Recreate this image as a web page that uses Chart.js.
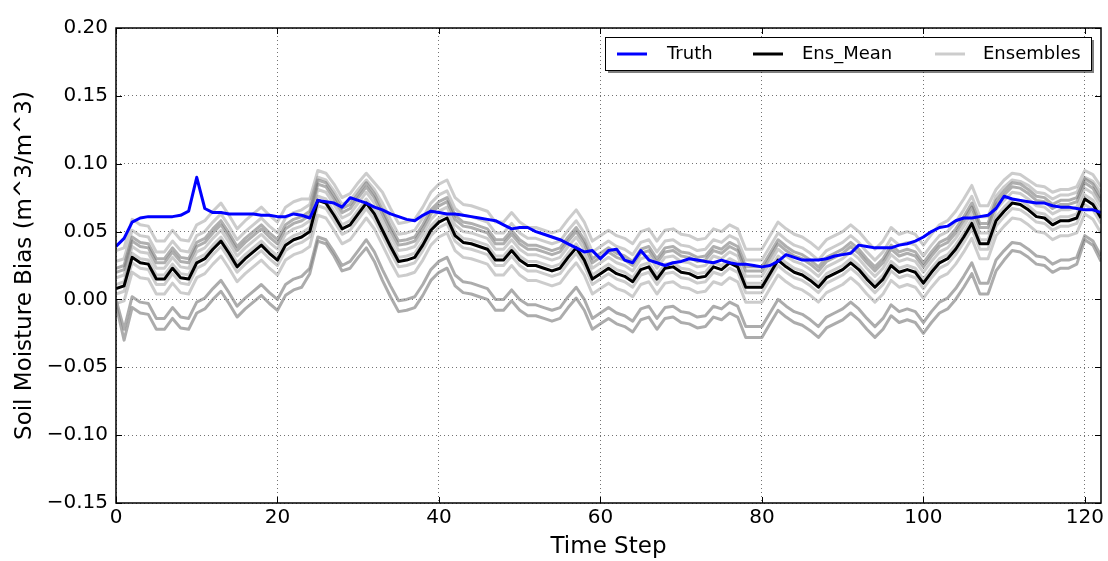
<!DOCTYPE html>
<html>
<head>
<meta charset="utf-8">
<title>Soil Moisture Bias</title>
<script src="https://cdn.jsdelivr.net/npm/chart.js@4.4.1/dist/chart.umd.min.js"></script>
<style>
  body { margin: 0; background: #fff; }
  #wrap { width: 1108px; height: 561px; position: relative; }
</style>
</head>
<body>
<div id="wrap"><canvas id="biasChart"></canvas></div>
<script>
// x positions: time steps 0..122
const timeSteps = Array.from({ length: 123 }, (_, i) => i);

const xTicks = [0, 20, 40, 60, 80, 100, 120];
const yTicks = [-0.15, -0.10, -0.05, 0.00, 0.05, 0.10, 0.15, 0.20];

// Truth (blue)
const truth = [
  0.039,0.045,0.057,0.060,0.061,0.061,0.061,0.061,0.062,0.065,
  0.090,0.067,0.064,0.064,0.063,0.063,0.063,0.063,0.062,0.062,
  0.061,0.061,0.063,0.062,0.060,0.073,0.072,0.071,0.068,0.075,
  0.073,0.071,0.068,0.066,0.063,0.061,0.059,0.058,0.062,0.065,
  0.064,0.063,0.063,0.062,0.061,0.060,0.059,0.058,0.055,0.052,
  0.053,0.053,0.050,0.048,0.046,0.044,0.041,0.038,0.035,0.036,
  0.030,0.036,0.037,0.029,0.027,0.036,0.029,0.027,0.025,0.027,
  0.028,0.030,0.029,0.028,0.027,0.029,0.027,0.026,0.026,0.025,
  0.024,0.025,0.028,0.033,0.031,0.029,0.029,0.029,0.030,0.032,
  0.033,0.034,0.040,0.039,0.038,0.038,0.038,0.040,0.041,0.043,
  0.046,0.050,0.053,0.054,0.058,0.060,0.060,0.061,0.062,0.067,
  0.076,0.074,0.073,0.072,0.071,0.071,0.069,0.068,0.068,0.067,
  0.066,0.066,0.064
];

// Ensemble mean (black)
const ensMean = [
  0.008,0.010,0.031,0.027,0.026,0.015,0.015,0.023,0.016,0.015,
  0.027,0.030,0.037,0.043,0.034,0.024,0.030,0.035,0.040,0.034,
  0.029,0.040,0.044,0.046,0.050,0.073,0.071,0.062,0.052,0.055,
  0.063,0.071,0.063,0.051,0.039,0.028,0.029,0.031,0.040,0.051,
  0.057,0.060,0.047,0.042,0.041,0.039,0.037,0.029,0.029,0.036,
  0.029,0.025,0.025,0.023,0.021,0.023,0.031,0.038,0.029,0.015,
  0.019,0.023,0.019,0.017,0.013,0.022,0.024,0.015,0.023,0.024,
  0.020,0.019,0.016,0.017,0.024,0.022,0.027,0.024,0.009,0.009,
  0.009,0.019,0.029,0.024,0.020,0.018,0.014,0.009,0.016,0.019,
  0.022,0.027,0.022,0.015,0.009,0.015,0.025,0.020,0.022,0.020,
  0.012,0.020,0.027,0.030,0.037,0.046,0.056,0.041,0.041,0.058,
  0.065,0.071,0.070,0.066,0.061,0.060,0.055,0.058,0.058,0.060,
  0.074,0.070,0.060
];

// Ensemble members (grey), top of the band downwards
const ensA = [
  0.036,0.038,0.059,0.055,0.054,0.043,0.043,0.051,0.044,0.043,
  0.055,0.058,0.065,0.071,0.062,0.052,0.058,0.063,0.068,0.062,
  0.057,0.068,0.072,0.074,0.074,0.095,0.093,0.085,0.075,0.078,
  0.086,0.093,0.086,0.079,0.067,0.056,0.057,0.059,0.068,0.079,
  0.085,0.088,0.075,0.070,0.069,0.067,0.065,0.057,0.057,0.064,
  0.057,0.053,0.053,0.051,0.049,0.051,0.059,0.066,0.057,0.043,
  0.047,0.051,0.047,0.045,0.041,0.050,0.052,0.043,0.051,0.052,
  0.048,0.047,0.044,0.045,0.052,0.050,0.055,0.052,0.037,0.037,
  0.037,0.047,0.057,0.052,0.048,0.046,0.042,0.037,0.044,0.047,
  0.050,0.055,0.050,0.043,0.037,0.043,0.053,0.048,0.050,0.048,
  0.040,0.048,0.055,0.058,0.065,0.074,0.084,0.069,0.069,0.081,
  0.088,0.093,0.092,0.088,0.084,0.083,0.079,0.081,0.081,0.083,
  0.095,0.092,0.083
];
const ensB = [
  0.028,0.030,0.051,0.047,0.046,0.035,0.035,0.043,0.036,0.035,
  0.047,0.050,0.057,0.063,0.054,0.044,0.050,0.055,0.060,0.054,
  0.049,0.060,0.064,0.066,0.070,0.090,0.088,0.080,0.070,0.073,
  0.081,0.088,0.081,0.071,0.059,0.048,0.049,0.051,0.060,0.071,
  0.077,0.080,0.067,0.062,0.061,0.059,0.057,0.049,0.049,0.056,
  0.049,0.045,0.045,0.043,0.041,0.043,0.051,0.058,0.049,0.035,
  0.039,0.043,0.039,0.037,0.033,0.042,0.044,0.035,0.043,0.044,
  0.040,0.039,0.036,0.037,0.044,0.042,0.047,0.044,0.029,0.029,
  0.029,0.039,0.049,0.044,0.040,0.038,0.034,0.029,0.036,0.039,
  0.042,0.047,0.042,0.035,0.029,0.035,0.045,0.040,0.042,0.040,
  0.032,0.040,0.047,0.050,0.057,0.066,0.076,0.061,0.061,0.076,
  0.083,0.088,0.087,0.084,0.079,0.078,0.074,0.077,0.077,0.079,
  0.090,0.087,0.079
];
const ensC = [
  0.023,0.025,0.046,0.042,0.041,0.030,0.030,0.038,0.031,0.030,
  0.042,0.045,0.052,0.058,0.049,0.039,0.045,0.050,0.055,0.049,
  0.044,0.055,0.059,0.061,0.065,0.088,0.086,0.077,0.067,0.070,
  0.078,0.086,0.078,0.066,0.054,0.043,0.044,0.046,0.055,0.066,
  0.072,0.075,0.062,0.057,0.056,0.054,0.052,0.044,0.044,0.051,
  0.044,0.040,0.040,0.038,0.036,0.038,0.046,0.053,0.044,0.030,
  0.034,0.038,0.034,0.032,0.028,0.037,0.039,0.030,0.038,0.039,
  0.035,0.034,0.031,0.032,0.039,0.037,0.042,0.039,0.024,0.024,
  0.024,0.034,0.044,0.039,0.035,0.033,0.029,0.024,0.031,0.034,
  0.037,0.042,0.037,0.030,0.024,0.030,0.040,0.035,0.037,0.035,
  0.027,0.035,0.042,0.045,0.052,0.061,0.071,0.056,0.056,0.073,
  0.080,0.086,0.085,0.081,0.076,0.075,0.070,0.073,0.073,0.075,
  0.089,0.085,0.075
];
const ensD = [
  0.020,0.022,0.043,0.039,0.038,0.027,0.027,0.035,0.028,0.027,
  0.039,0.042,0.049,0.055,0.046,0.036,0.042,0.047,0.052,0.046,
  0.041,0.052,0.056,0.058,0.062,0.085,0.083,0.074,0.064,0.067,
  0.075,0.083,0.075,0.063,0.051,0.040,0.041,0.043,0.052,0.063,
  0.069,0.072,0.059,0.054,0.053,0.051,0.049,0.041,0.041,0.048,
  0.041,0.037,0.037,0.035,0.033,0.035,0.043,0.050,0.041,0.027,
  0.031,0.035,0.031,0.029,0.025,0.034,0.036,0.027,0.035,0.036,
  0.032,0.031,0.028,0.029,0.036,0.034,0.039,0.036,0.021,0.021,
  0.021,0.031,0.041,0.036,0.032,0.030,0.026,0.021,0.028,0.031,
  0.034,0.039,0.034,0.027,0.021,0.027,0.037,0.032,0.034,0.032,
  0.024,0.032,0.039,0.042,0.049,0.058,0.068,0.053,0.053,0.070,
  0.077,0.083,0.082,0.078,0.073,0.072,0.067,0.070,0.070,0.072,
  0.086,0.082,0.072
];
const ensE = [
  0.016,0.018,0.039,0.035,0.034,0.023,0.023,0.031,0.024,0.023,
  0.035,0.038,0.045,0.051,0.042,0.032,0.038,0.043,0.048,0.042,
  0.037,0.048,0.052,0.054,0.058,0.081,0.079,0.070,0.060,0.063,
  0.071,0.079,0.071,0.059,0.047,0.036,0.037,0.039,0.048,0.059,
  0.065,0.068,0.055,0.050,0.049,0.047,0.045,0.037,0.037,0.044,
  0.037,0.033,0.033,0.031,0.029,0.031,0.039,0.046,0.037,0.023,
  0.027,0.031,0.027,0.025,0.021,0.030,0.032,0.023,0.031,0.032,
  0.028,0.027,0.024,0.025,0.032,0.030,0.035,0.032,0.017,0.017,
  0.017,0.027,0.037,0.032,0.028,0.026,0.022,0.017,0.024,0.027,
  0.030,0.035,0.030,0.023,0.017,0.023,0.033,0.028,0.030,0.028,
  0.020,0.028,0.035,0.038,0.045,0.054,0.064,0.049,0.049,0.066,
  0.073,0.079,0.078,0.074,0.069,0.068,0.063,0.066,0.066,0.068,
  0.082,0.078,0.068
];
const ensF = [
  0.011,0.013,0.034,0.030,0.029,0.018,0.018,0.026,0.019,0.018,
  0.030,0.033,0.040,0.046,0.037,0.027,0.033,0.038,0.043,0.037,
  0.032,0.043,0.047,0.049,0.053,0.076,0.074,0.065,0.055,0.058,
  0.066,0.074,0.066,0.054,0.042,0.031,0.032,0.034,0.043,0.054,
  0.060,0.063,0.050,0.045,0.044,0.042,0.040,0.032,0.032,0.039,
  0.032,0.028,0.028,0.026,0.024,0.026,0.034,0.041,0.032,0.018,
  0.022,0.026,0.022,0.020,0.016,0.025,0.027,0.018,0.026,0.027,
  0.023,0.022,0.019,0.020,0.027,0.025,0.030,0.027,0.012,0.012,
  0.012,0.022,0.032,0.027,0.023,0.021,0.017,0.012,0.019,0.022,
  0.025,0.030,0.025,0.018,0.012,0.018,0.028,0.023,0.025,0.023,
  0.015,0.023,0.030,0.033,0.040,0.049,0.059,0.044,0.044,0.061,
  0.068,0.074,0.073,0.069,0.064,0.063,0.058,0.061,0.061,0.063,
  0.077,0.073,0.063
];
const ensG = [
  0.004,0.006,0.027,0.023,0.022,0.011,0.011,0.019,0.012,0.011,
  0.023,0.026,0.033,0.039,0.030,0.020,0.026,0.031,0.036,0.030,
  0.025,0.036,0.040,0.042,0.046,0.069,0.067,0.058,0.048,0.051,
  0.059,0.067,0.059,0.047,0.035,0.024,0.025,0.027,0.036,0.047,
  0.053,0.056,0.043,0.038,0.037,0.035,0.033,0.025,0.025,0.032,
  0.025,0.021,0.021,0.019,0.017,0.019,0.027,0.034,0.025,0.011,
  0.015,0.019,0.015,0.013,0.009,0.018,0.020,0.011,0.019,0.020,
  0.016,0.015,0.012,0.013,0.020,0.018,0.023,0.020,0.005,0.005,
  0.005,0.015,0.025,0.020,0.016,0.014,0.010,0.005,0.012,0.015,
  0.018,0.023,0.018,0.011,0.005,0.011,0.021,0.016,0.018,0.016,
  0.008,0.016,0.023,0.026,0.033,0.042,0.052,0.037,0.037,0.054,
  0.061,0.067,0.066,0.062,0.057,0.056,0.051,0.054,0.054,0.056,
  0.070,0.066,0.056
];
const ensH = [
  -0.003,-0.001,0.020,0.016,0.015,0.004,0.004,0.012,0.005,0.004,
  0.016,0.019,0.026,0.032,0.023,0.013,0.019,0.024,0.029,0.023,
  0.018,0.029,0.033,0.035,0.039,0.062,0.060,0.051,0.041,0.044,
  0.052,0.060,0.052,0.040,0.028,0.017,0.018,0.020,0.029,0.040,
  0.046,0.049,0.036,0.031,0.030,0.028,0.026,0.018,0.018,0.025,
  0.018,0.014,0.014,0.012,0.010,0.012,0.020,0.027,0.018,0.004,
  0.008,0.012,0.008,0.006,0.002,0.011,0.013,0.004,0.012,0.013,
  0.009,0.008,0.005,0.006,0.013,0.011,0.016,0.013,-0.002,-0.002,
  -0.002,0.008,0.018,0.013,0.009,0.007,0.003,-0.002,0.005,0.008,
  0.011,0.016,0.011,0.004,-0.002,0.004,0.014,0.009,0.011,0.009,
  0.001,0.009,0.016,0.019,0.026,0.035,0.045,0.030,0.030,0.047,
  0.054,0.060,0.059,0.055,0.050,0.049,0.044,0.047,0.047,0.049,
  0.063,0.059,0.049
];
// the two low members
const ensJ = [
  0.000,-0.022,0.002,-0.002,-0.003,-0.014,-0.014,-0.006,-0.013,-0.014,
  -0.002,0.001,0.008,0.014,0.005,-0.005,0.001,0.006,0.011,0.005,
  0.000,0.011,0.015,0.017,0.023,0.046,0.044,0.035,0.025,0.028,
  0.036,0.044,0.035,0.022,0.010,-0.001,0.000,0.002,0.011,0.022,
  0.028,0.031,0.018,0.013,0.012,0.010,0.008,0.000,0.000,0.007,
  0.000,-0.004,-0.004,-0.006,-0.008,-0.006,0.002,0.009,0.000,-0.014,
  -0.010,-0.006,-0.010,-0.012,-0.016,-0.007,-0.005,-0.014,-0.006,-0.005,
  -0.009,-0.010,-0.013,-0.012,-0.005,-0.007,-0.002,-0.005,-0.020,-0.020,
  -0.020,-0.010,0.000,-0.005,-0.009,-0.011,-0.015,-0.020,-0.013,-0.010,
  -0.007,-0.002,-0.007,-0.014,-0.020,-0.014,-0.004,-0.009,-0.007,-0.009,
  -0.017,-0.009,-0.002,0.001,0.008,0.017,0.027,0.012,0.012,0.029,
  0.036,0.042,0.041,0.037,0.032,0.031,0.026,0.029,0.029,0.031,
  0.047,0.043,0.032
];
const ensL = [
  -0.004,-0.030,-0.006,-0.010,-0.011,-0.022,-0.022,-0.014,-0.021,-0.022,
  -0.010,-0.007,0.000,0.006,-0.003,-0.013,-0.007,-0.002,0.003,-0.003,
  -0.008,0.003,0.007,0.009,0.019,0.043,0.041,0.032,0.021,0.023,
  0.031,0.038,0.028,0.014,0.002,-0.009,-0.008,-0.006,0.003,0.014,
  0.020,0.023,0.010,0.005,0.004,0.002,0.000,-0.008,-0.008,-0.001,
  -0.008,-0.012,-0.012,-0.014,-0.016,-0.014,-0.006,0.001,-0.008,-0.022,
  -0.018,-0.014,-0.018,-0.020,-0.024,-0.015,-0.013,-0.022,-0.014,-0.013,
  -0.017,-0.018,-0.021,-0.020,-0.013,-0.015,-0.010,-0.013,-0.028,-0.028,
  -0.028,-0.018,-0.008,-0.013,-0.017,-0.019,-0.023,-0.028,-0.021,-0.018,
  -0.015,-0.010,-0.015,-0.022,-0.028,-0.022,-0.012,-0.017,-0.015,-0.017,
  -0.025,-0.017,-0.010,-0.007,0.000,0.009,0.019,0.004,0.004,0.021,
  0.029,0.036,0.035,0.031,0.026,0.025,0.020,0.023,0.023,0.026,
  0.044,0.040,0.028
];

// light members, the darker core just above the mean, and the two low members
const lightMembers = [ensA, ensB, ensE, ensF, ensG, ensH];
const coreMembers = [ensC, ensD];
const lowMembers = [ensJ, ensL];

const FONT = "'DejaVu Sans', 'Liberation Sans', sans-serif";
const toPoints = arr => arr.map((v, i) => ({ x: timeSteps[i], y: v }));

const datasets = [
  { label: 'Truth', data: toPoints(truth), borderColor: '#0000ff', order: 0 },
  { label: 'Ens_Mean', data: toPoints(ensMean), borderColor: '#000000', order: 1 }
];
lightMembers.forEach(m => datasets.push({
  label: 'Ensembles', data: toPoints(m), borderColor: 'rgba(128,128,128,0.4)', order: 2
}));
coreMembers.forEach(m => datasets.push({
  label: 'Ensembles', data: toPoints(m), borderColor: 'rgba(110,110,110,0.55)', order: 2
}));
lowMembers.forEach(m => datasets.push({
  label: 'Ensembles', data: toPoints(m), borderColor: 'rgba(128,128,128,0.65)', order: 2
}));

// black frame and inward tick marks on all four sides
const frame = {
  id: 'frame',
  afterDatasetsDraw(chart) {
    const { ctx, chartArea: a, scales: { x, y } } = chart;
    ctx.save();
    ctx.strokeStyle = '#000';
    ctx.lineWidth = 1;
    ctx.beginPath();
    xTicks.forEach(v => {
      const px = Math.round(x.getPixelForValue(v)) + 0.5;
      ctx.moveTo(px, a.bottom); ctx.lineTo(px, a.bottom - 6);
      ctx.moveTo(px, a.top); ctx.lineTo(px, a.top + 6);
    });
    yTicks.forEach(v => {
      const py = Math.round(y.getPixelForValue(v)) + 0.5;
      ctx.moveTo(a.left, py); ctx.lineTo(a.left + 6, py);
      ctx.moveTo(a.right, py); ctx.lineTo(a.right - 6, py);
    });
    ctx.stroke();
    ctx.lineWidth = 1.5;
    ctx.strokeRect(a.left, a.top, a.width, a.height);
    ctx.restore();
  }
};

// legend box in the upper right corner of the axes
const legendItems = [
  { text: 'Truth', color: '#0000ff', lineAt: 12, textAt: 62 },
  { text: 'Ens_Mean', color: '#000000', lineAt: 148, textAt: 197 },
  { text: 'Ensembles', color: '#cccccc', lineAt: 330, textAt: 378 }
];
const legendBox = {
  id: 'legendBox',
  afterDraw(chart) {
    const { ctx, chartArea: a } = chart;
    const w = 486, h = 33;
    const x0 = a.right - 10 - w, y0 = a.top + 9;
    ctx.save();
    ctx.fillStyle = 'rgba(0,0,0,0.5)';
    ctx.fillRect(x0 + 3, y0 + 3, w, h);
    ctx.fillStyle = '#fff';
    ctx.fillRect(x0, y0, w, h);
    ctx.strokeStyle = '#000';
    ctx.lineWidth = 1;
    ctx.strokeRect(x0 + 0.5, y0 + 0.5, w, h);
    const cy = y0 + h / 2 + 0.5;
    ctx.font = '18px ' + FONT;
    ctx.textBaseline = 'middle';
    ctx.textAlign = 'left';
    legendItems.forEach(item => {
      ctx.strokeStyle = item.color;
      ctx.lineWidth = 3;
      ctx.beginPath();
      ctx.moveTo(x0 + item.lineAt, cy);
      ctx.lineTo(x0 + item.lineAt + 30, cy);
      ctx.stroke();
      ctx.fillStyle = '#000';
      ctx.fillText(item.text, x0 + item.textAt, cy);
    });
    ctx.restore();
  }
};

const tickFont = { family: FONT, size: 20 };
const titleFont = { family: FONT, size: 23 };

new Chart(document.getElementById('biasChart'), {
  type: 'line',
  data: { datasets },
  options: {
    responsive: true,
    maintainAspectRatio: false,
    animation: false,
    layout: { padding: { top: 28, right: 7, left: 0, bottom: 0 } },
    elements: {
      point: { radius: 0 },
      line: { tension: 0, borderWidth: 3, borderJoinStyle: 'round', fill: false }
    },
    plugins: { legend: { display: false }, tooltip: { enabled: false } },
    scales: {
      x: {
        type: 'linear',
        min: 0,
        max: 122,
        afterBuildTicks: s => { s.ticks = xTicks.map(v => ({ value: v })); },
        afterFit: s => { s.height = 58; },
        grid: { color: 'rgba(0,0,0,0.55)', lineWidth: 1, drawTicks: false },
        border: { display: false, dash: [1, 3] },
        ticks: { font: tickFont, color: '#000', padding: 3, maxRotation: 0, callback: v => String(v) },
        title: { display: true, text: 'Time Step', font: titleFont, color: '#000', padding: { top: 0, bottom: 0 } }
      },
      y: {
        type: 'linear',
        min: -0.15,
        max: 0.20,
        afterBuildTicks: s => { s.ticks = yTicks.map(v => ({ value: v })); },
        afterFit: s => { s.width = 116; },
        grid: { color: 'rgba(0,0,0,0.55)', lineWidth: 1, drawTicks: false },
        border: { display: false, dash: [1, 3] },
        ticks: {
          font: tickFont, color: '#000', padding: 8,
          callback: v => v.toFixed(2).replace('-', '\u2212')
        },
        title: { display: true, text: 'Soil Moisture Bias (m^3/m^3)', font: titleFont, color: '#000', padding: { top: 11, bottom: 0 } }
      }
    }
  },
  plugins: [frame, legendBox]
});
</script>
</body>
</html>
